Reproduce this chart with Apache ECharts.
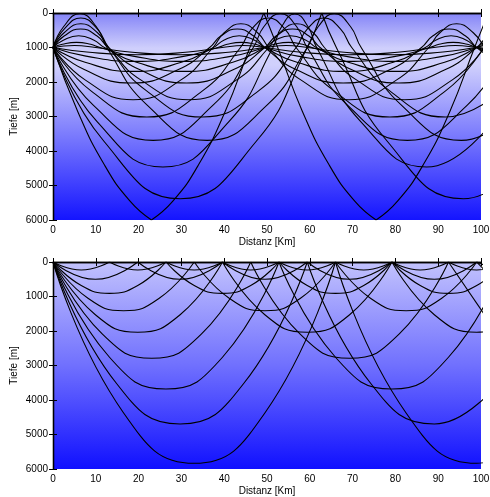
<!DOCTYPE html>
<html>
<head>
<meta charset="utf-8">
<title>Strahlen</title>
<script src="https://cdn.jsdelivr.net/npm/echarts@6/dist/echarts.min.js"></script>
<style>
  html, body { margin: 0; padding: 0; background: #fff; }
  #main { width: 490px; height: 497px; }
</style>
</head>
<body>
<div id="main"></div>
<script>
// Achsen
var xTicks = [0, 10, 20, 30, 40, 50, 60, 70, 80, 90, 100];
var depthTicks = [0, 1000, 2000, 3000, 4000, 5000, 6000];

// oberes Bild: Quelle in 1000 m Tiefe, [Distanz km, Tiefe m]
var up1 = [[0,1000],[5,940],[10,1000],[17.9,1130],[29.75,1209],[41.6,1130],[49.5,1000],[54.5,940],[59.5,1000],[67.4,1130],[79.25,1209],[91.1,1130],[99,1000],[104,940]];
var down1 = [[0,1000],[7.9,1130],[19.75,1209],[31.6,1130],[39.5,1000],[44.5,940],[49.5,1000],[57.4,1130],[69.25,1209],[81.1,1130],[89,1000],[94,940],[99,1000],[106.9,1130]];
var up2 = [[0,1000],[2.2,907],[5.5,850],[8.8,907],[11,1000],[18.7,1249],[30.25,1402],[41.8,1249],[49.5,1000],[51.7,907],[55,850],[58.3,907],[60.5,1000],[68.2,1249],[79.75,1402],[91.3,1249],[99,1000],[101.2,907],[104.5,850]];
var down2 = [[0,1000],[7.7,1249],[19.25,1402],[30.8,1249],[38.5,1000],[40.7,907],[44,850],[47.3,907],[49.5,1000],[57.2,1249],[68.75,1402],[80.3,1249],[88,1000],[90.2,907],[93.5,850],[96.8,907],[99,1000],[106.7,1249]];
var up3 = [[0,1000],[2.4,789],[6,660],[9.6,789],[12,1000],[19.5,1429],[30.75,1692],[42,1429],[49.5,1000],[51.9,789],[55.5,660],[59.1,789],[61.5,1000],[69,1429],[80.25,1692],[91.5,1429],[99,1000],[101.4,789],[105,660]];
var down3 = [[0,1000],[7.5,1429],[18.75,1692],[30,1429],[37.5,1000],[39.9,789],[43.5,660],[47.1,789],[49.5,1000],[57,1429],[68.25,1692],[79.5,1429],[87,1000],[89.4,789],[93,660],[96.6,789],[99,1000],[106.5,1429]];
var up4 = [[0,1000],[2.6,668],[6.45,465],[10.3,668],[12.9,1000],[20.2,1638],[31.2,2029],[42.2,1638],[49.5,1000],[52.1,668],[55.95,465],[59.8,668],[62.4,1000],[69.7,1638],[80.7,2029],[91.7,1638],[99,1000],[101.6,668],[105.45,465]];
var down4 = [[0,1000],[7.3,1638],[18.3,2029],[29.3,1638],[36.6,1000],[39.2,668],[43.05,465],[46.9,668],[49.5,1000],[56.8,1638],[67.8,2029],[78.8,1638],[86.1,1000],[88.7,668],[92.55,465],[96.4,668],[99,1000],[106.3,1638]];
var up5 = [[0,1000],[2.6,572],[6.5,310],[10.4,572],[13,1000],[20.5,1938],[31.7,2513],[42.9,1938],[50.4,1000],[53,572],[56.9,310],[60.8,572],[63.4,1000],[70.9,1938],[82.1,2513],[93.3,1938],[100.8,1000]];
var down5 = [[0,1000],[7.5,1938],[18.7,2513],[29.9,1938],[37.4,1000],[40,572],[43.9,310],[47.8,572],[50.4,1000],[57.9,1938],[69.1,2513],[80.3,1938],[87.8,1000],[90.4,572],[94.3,310],[98.2,572],[100.8,1000]];
var up6 = [[0,1000],[2.6,470],[6.5,145],[10.4,470],[13,1000],[21.8,2249],[34.9,3015],[48.1,2249],[56.8,1000],[59.4,470],[63.3,145],[67.2,470],[69.8,1000],[78.6,2249],[91.7,3015],[104.8,2249]];
var down6 = [[0,1000],[8.8,2249],[21.9,3015],[35,2249],[43.8,1000],[46.4,470],[50.3,145],[54.2,470],[56.8,1000],[65.6,2249],[78.7,3015],[91.8,2249],[100.6,1000]];
var up7 = [[0,1000],[2.5,392],[6.3,20],[10.1,392],[12.6,1000],[22,2670],[36,3693],[50,2670],[59.4,1000],[62,392],[65.7,20],[69.5,392],[72,1000],[81.4,2670],[95.4,3693],[109.4,2670]];
var down7 = [[0,1000],[9.4,2670],[23.4,3693],[37.4,2670],[46.8,1000],[49.3,392],[53.1,20],[56.9,392],[59.4,1000],[68.8,2670],[82.8,3693],[96.8,2670],[106.2,1000]];
var down8 = [[0,1000],[10.3,3148],[25.7,4464],[41.1,3148],[51.4,1000],[53.4,399],[56.5,30],[59.6,399],[61.6,1000],[71.9,3148],[87.3,4464],[102.7,3148]];
var down9 = [[0,1000],[11.9,3717],[29.7,5383],[47.5,3717],[59.4,1000],[62.8,0],[66.2,1000],[78.1,3717],[95.9,5383],[113.7,3717]];
var down10 = [[0,1000],[5.8,2860],[12,4400],[18,5455],[23,6000],[28,5455],[34,4400],[40.2,2860],[46,1000],[49.25,0],[52.5,1000],[58.3,2860],[64.5,4400],[70.5,5455],[75.5,6000],[80.5,5455],[86.5,4400],[92.7,2860],[98.5,1000],[101.75,0]];

// unteres Bild: Quelle an der Oberfläche
var surf1 = [[0,0],[6.6,232],[13.2,0],[19.8,232],[26.4,0],[33,232],[39.6,0],[46.2,232],[52.8,0],[59.4,232],[66,0],[72.6,232],[79.2,0],[85.8,232],[92.4,0],[99,232],[105.6,0]];
var surf2 = [[0,0],[9.9,502],[19.8,0],[29.7,502],[39.6,0],[49.5,502],[59.4,0],[69.3,502],[79.2,0],[89.1,502],[99,0],[108.9,502]];
var surf3 = [[0,0],[6.6,681],[13.2,908],[19.8,681],[26.4,0],[33,681],[39.6,908],[46.2,681],[52.8,0],[59.4,681],[66,908],[72.6,681],[79.2,0],[85.8,681],[92.4,908],[99,681],[105.6,0]];
var surf4 = [[0,0],[8.25,1058],[16.5,1411],[24.75,1058],[33,0],[41.25,1058],[49.5,1411],[57.75,1058],[66,0],[74.25,1058],[82.5,1411],[90.75,1058],[99,0],[107.25,1058]];
var surf5 = [[0,0],[9.9,1529],[19.8,2038],[29.7,1529],[39.6,0],[49.5,1529],[59.4,2038],[69.3,1529],[79.2,0],[89.1,1529],[99,2038],[108.9,1529]];
var surf6 = [[0,0],[11.55,2093],[23.1,2791],[34.65,2093],[46.2,0],[57.75,2093],[69.3,2791],[80.85,2093],[92.4,0],[103.95,2093]];
var surf7 = [[0,0],[13.2,2761],[26.4,3681],[39.6,2761],[52.8,0],[66,2761],[79.2,3681],[92.4,2761],[105.6,0]];
var surf8 = [[0,0],[14.85,3522],[29.7,4696],[44.55,3522],[59.4,0],[74.25,3522],[89.1,4696],[103.95,3522]];
var surf9 = [[0,0],[16.5,4376],[33,5835],[49.5,4376],[66,0],[82.5,4376],[99,5835],[115.5,4376]];

var topRays = [up1, down1, up2, down2, up3, down3, up4, down4, up5, down5,
               up6, down6, up7, down7, down8, down9, down10];
var bottomRays = [surf1, surf2, surf3, surf4, surf5, surf6, surf7, surf8, surf9];

var FONT = 'Liberation Sans, Arial, sans-serif';

// an Reflexionen (Oberfläche/Boden) auftrennen, damit der Knick spitz bleibt
function splitAtBounds(pts) {
    var segs = [];
    var cur = [pts[0]];
    for (var i = 1; i < pts.length; i++) {
        cur.push(pts[i]);
        var d = pts[i][1];
        if ((d === 0 || d === 6000) && i < pts.length - 1) {
            segs.push(cur);
            cur = [pts[i]];
        }
    }
    segs.push(cur);
    return segs;
}

var series = [];
function addRays(rays, axisIdx) {
    rays.forEach(function (ray) {
        splitAtBounds(ray).forEach(function (seg) {
            series.push({
                type: 'line',
                xAxisIndex: axisIdx,
                yAxisIndex: axisIdx,
                data: seg,
                smooth: 0.5,
                showSymbol: false,
                clip: true,
                silent: true,
                lineStyle: { color: '#000', width: 1.1 }
            });
        });
    });
}
addRays(topRays, 0);
addRays(bottomRays, 2);

function bgTop() {
    return new echarts.graphic.LinearGradient(0, 0, 0, 1, [
        { offset: 0, color: '#8484f7' },
        { offset: 0.17, color: '#cfcffc' },
        { offset: 0.25, color: '#d0d0fc' },
        { offset: 0.6, color: '#7878fd' },
        { offset: 1, color: '#1414ff' }
    ]);
}
function bgBottom() {
    return new echarts.graphic.LinearGradient(0, 0, 0, 1, [
        { offset: 0, color: '#c2c2fd' },
        { offset: 0.5, color: '#7070fe' },
        { offset: 1, color: '#1010ff' }
    ]);
}

var axisLine = { show: true, lineStyle: { color: '#000', width: 1.3 } };
var tick = { show: true, inside: true, length: 4, lineStyle: { color: '#000' } };

function xAx(grid, pos, labels) {
    return {
        type: 'value', gridIndex: grid, position: pos,
        min: xTicks[0], max: xTicks[xTicks.length - 1], interval: 10,
        axisLine: axisLine, axisTick: tick,
        axisLabel: { show: labels, color: '#000', fontSize: 10, fontFamily: FONT, margin: 5 },
        splitLine: { show: false },
        name: labels ? 'Distanz [Km]' : '',
        nameLocation: 'middle', nameGap: 17,
        nameTextStyle: { color: '#000', fontSize: 10, fontFamily: FONT }
    };
}
function yAx(grid, pos, labels) {
    return {
        type: 'value', gridIndex: grid, position: pos, inverse: true,
        min: depthTicks[0], max: depthTicks[depthTicks.length - 1], interval: 1000,
        axisLine: axisLine, axisTick: tick,
        axisLabel: { show: labels, color: '#000', fontSize: 10, fontFamily: FONT, margin: 5,
                     formatter: function (v) { return String(v); } },
        splitLine: { show: false },
        name: labels ? 'Tiefe [m]' : '',
        nameLocation: 'middle', nameGap: 34, nameRotate: 90, nameMoveOverlap: false,
        nameTextStyle: { color: '#000', fontSize: 10, fontFamily: FONT }
    };
}

var myChart = echarts.init(document.getElementById('main'));
myChart.setOption({
    animation: false,
    backgroundColor: '#fff',
    grid: [
        { left: 53, right: 9, top: 13, height: 207, show: true, containLabel: false,
          outerBoundsMode: 'none', backgroundColor: bgTop(), borderWidth: 0 },
        { left: 53, right: 9, top: 262, height: 207, show: true, containLabel: false,
          outerBoundsMode: 'none', backgroundColor: bgBottom(), borderWidth: 0 }
    ],
    xAxis: [xAx(0, 'bottom', true), xAx(0, 'top', false), xAx(1, 'bottom', true), xAx(1, 'top', false)],
    yAxis: [yAx(0, 'left', true), yAx(0, 'right', false), yAx(1, 'left', true), yAx(1, 'right', false)],
    series: series
});
</script>
</body>
</html>
